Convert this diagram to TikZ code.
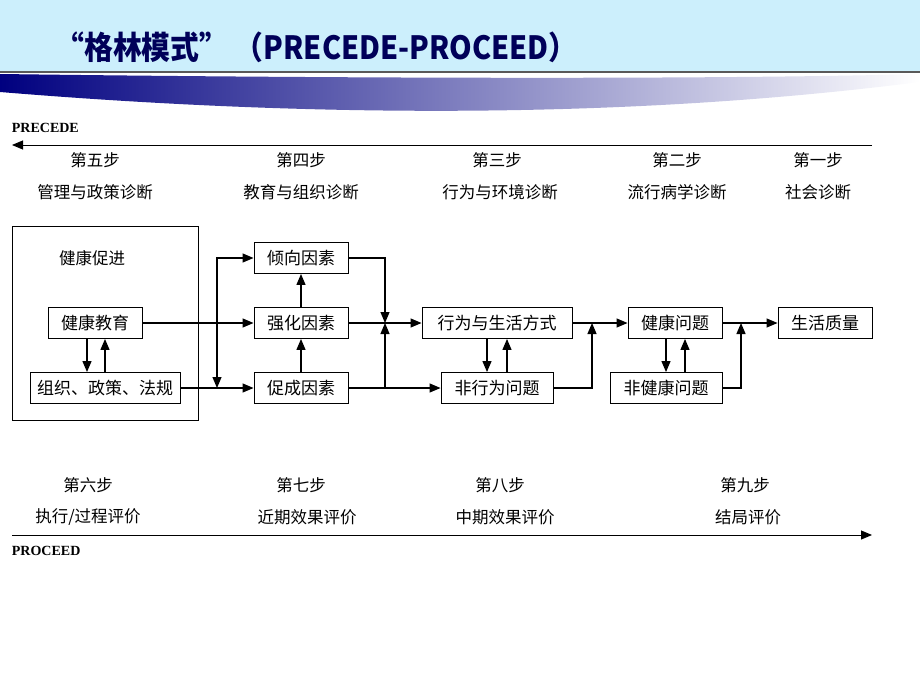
\documentclass[tikz,border=0pt]{standalone}
\usepackage{fontspec}
\setmainfont{Liberation Serif}
\newfontfamily\cjk{Noto Sans CJK SC}
\newfontfamily\cjkb{Noto Sans CJK SC Black}
\usetikzlibrary{arrows.meta,positioning}
\begin{document}
\begin{tikzpicture}[x=1pt, y=-1pt, >={Triangle[length=11pt,width=9pt]}, line width=1.2pt,
  main/.style = {draw, line width=0.9pt, minimum height=31pt, inner xsep=2pt, font=\cjk\fontsize{17}{17}\selectfont},
  txt/.style = {font=\cjk\fontsize{16.5}{16.5}\selectfont},
  lab/.style = {font=\bfseries\fontsize{14}{14}\selectfont, anchor=west}]
\useasboundingbox (0,0) rectangle (920,690);
% title band
\fill[cyan!20] (0,0) rectangle (920,72);
\draw[gray!70!black] (0,72) -- (920,72);
\shade[left color=blue!50!black, right color=white] (0,74) .. controls (300,78) and (700,80) .. (920,74) -- (920,82) .. controls (700,110) and (400,125) .. (0,92) -- cycle;
\node[anchor=west, text=blue!35!black, font=\cjkb\fontsize{32}{32}\selectfont, xscale=0.9] (title) at (52,47) {“格林模式”\ （PRECEDE-PROCEED）};
% step labels
\node[lab] (pre) at (8,128) {PRECEDE};
\coordinate (preR) at (872,145);
\coordinate (preL) at (12,145);
\draw[->, line width=0.9pt] (preR) -- (preL);
\node[txt] (s5) at (95,160) {第五步};
\node[txt] (s4) at (301,160) {第四步};
\node[txt] (s3) at (497,160) {第三步};
\node[txt] (s2) at (677,160) {第二步};
\node[txt] (s1) at (818,160) {第一步};
\node[txt] (d5) at (95,192) {管理与政策诊断};
\node[txt] (d4) at (301,192) {教育与组织诊断};
\node[txt] (d3) at (500,192) {行为与环境诊断};
\node[txt] (d2) at (677,192) {流行病学诊断};
\node[txt] (d1) at (818,192) {社会诊断};
% boxes
\draw[line width=0.9pt] (12,226) rectangle (198,420);
\node[txt] (hp) at (92,258) {健康促进};
\node[main, minimum width=94pt] (he) at (95,323) {健康教育};
\node[main, minimum width=150pt] (org) at (105,388) {组织、政策、法规};
\node[main, minimum width=94pt] (pf) at (301,258) {倾向因素};
\node[main, minimum width=94pt] (rf) at (301,323) {强化因素};
\node[main, minimum width=94pt] (ef) at (301,388) {促成因素};
\node[main, minimum width=150pt] (beh) at (497,323) {行为与生活方式};
\node[main, minimum width=112pt] (nb) at (497,388) {非行为问题};
\node[main, minimum width=94pt] (hq) at (675,323) {健康问题};
\node[main, minimum width=112pt] (nh) at (666,388) {非健康问题};
\node[main, minimum width=94pt] (ql) at (825,323) {生活质量};
\coordinate (j1) at (217,388);
\coordinate (j2) at (385,323);
\coordinate (j3) at (592,323);
\coordinate (j4) at (741,323);
% connectors
\draw[->] (he) -- (rf);
\draw[->] (he.south -| 87,0) -- (org.north -| 87,0);
\draw[->] (org.north -| 105,0) -- (he.south -| 105,0);
\draw[->] (org) -- (ef);
\draw[<->] (j1) |- (pf);
\draw[->] (rf) -- (pf);
\draw[->] (ef) -- (rf);
\draw[->] (pf) -| (j2);
\draw[->] (ef) -| (j2);
\draw[->] (ef) -- (nb);
\draw[->] (rf) -- (beh);
\draw[->] (beh.south -| 487,0) -- (nb.north -| 487,0);
\draw[->] (nb.north -| 507,0) -- (beh.south -| 507,0);
\draw[->] (nb) -| (j3);
\draw[->] (beh) -- (hq);
\draw[->] (hq.south -| 666,0) -- (nh.north -| 666,0);
\draw[->] (nh.north -| 685,0) -- (hq.south -| 685,0);
\draw[->] (nh) -| (j4);
\draw[->] (hq) -- (ql);
% proceed labels
\node[txt] (s6) at (88,485) {第六步};
\node[txt] (s7) at (301,485) {第七步};
\node[txt] (s8) at (500,485) {第八步};
\node[txt] (s9) at (745,485) {第九步};
\node[txt] (e6) at (88,517) {执行/过程评价};
\node[txt] (e7) at (307,517) {近期效果评价};
\node[txt] (e8) at (505,517) {中期效果评价};
\node[txt] (e9) at (748,517) {结局评价};
\coordinate (proL) at (12,535);
\coordinate (proR) at (872,535);
\draw[->, line width=0.9pt] (proL) -- (proR);
\node[lab] (pro) at (8,551) {PROCEED};
\end{tikzpicture}
\end{document}
